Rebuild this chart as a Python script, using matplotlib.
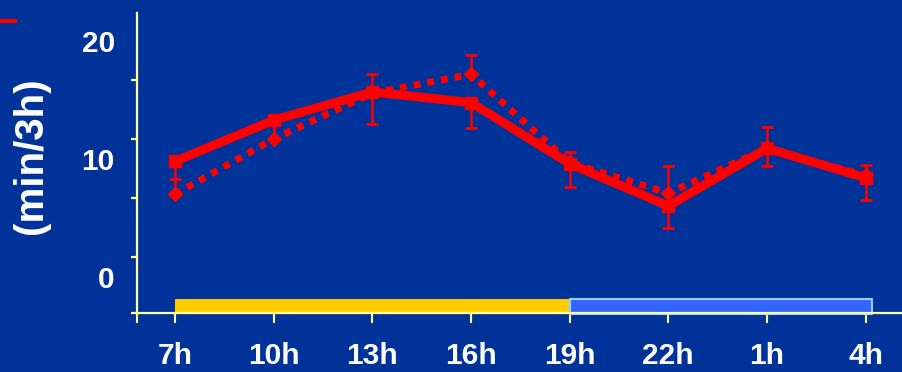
import matplotlib
matplotlib.use("Agg")
import matplotlib.pyplot as plt
from matplotlib.lines import Line2D

# time of day, 3h bins
hours = ["7h", "10h", "13h", "16h", "19h", "22h", "1h", "4h"]

# solid series (squares), lower error bars only
solid_mean = [9.8, 13.3, 15.7, 14.8, 9.6, 6.0, 10.9, 8.4]
solid_err = [1.5, 1.5, 2.7, 2.2, 2.0, 1.9, 1.5, 1.9]

# dotted series (diamonds), upper error bars only
dotted_mean = [7.0, 11.7, 15.6, 17.2, 9.7, 7.1, 10.9, 8.6]
dotted_err = [1.3, 1.3, 1.6, 1.6, 0.9, 2.3, 1.8, 0.9]

# light / dark phase strip along the x axis (in bin units)
day_span = (0, 4)
night_span = (4, 7.06)

BG = "#003399"
RED = "#ff0000"
AXIS = "#ffff99"

plt.rcParams["font.family"] = ["Liberation Sans", "DejaVu Sans"]
plt.rcParams["font.weight"] = "bold"

fig = plt.figure(figsize=(9.03, 3.72), dpi=100, facecolor=BG)
ax = fig.add_axes([0.1517, 0.1586, 0.848, 0.806], facecolor=BG)

x = list(range(len(hours)))
zeros = [0] * len(hours)

ax.errorbar(x, solid_mean, yerr=[solid_err, zeros], color=RED, lw=6.5,
            marker="s", ms=8.5, ecolor=RED, elinewidth=1.8, capsize=4,
            capthick=2, zorder=3)
ax.errorbar(x, dotted_mean, yerr=[zeros, dotted_err], color=RED, lw=5,
            ls=(0, (1, 1)), dash_capstyle="butt", marker="D", ms=7,
            ecolor=RED, elinewidth=1.8, capsize=4, capthick=2, zorder=4)

# light/dark bar sitting on the x axis
ax.fill_between(day_span, -3.1, -1.9, color="#ffcc00", lw=0, zorder=2,
                clip_on=False)
ax.fill_between(night_span, -3.2, -1.95, facecolor="#3366ff",
                edgecolor="#99ccff", lw=1.5, zorder=2, clip_on=False)

ax.set_xlim(-0.385, 7.376)
ax.set_ylim(-3.1, 22.4)

for side in ("top", "right"):
    ax.spines[side].set_visible(False)
for side in ("left", "bottom"):
    ax.spines[side].set_color(AXIS)
    ax.spines[side].set_linewidth(1.6)

ax.set_xticks(x)
ax.set_xticklabels(hours)
ax.set_xticks([-0.385], minor=True)
ax.tick_params(axis="x", which="both", direction="out", length=7,
               width=1.5, color=AXIS, pad=14, labelsize=21.5,
               labelcolor="white")

ax.set_yticks([0, 10, 20])
ax.set_yticks([-3.1, 1.7, 6.7, 11.7, 16.7], minor=True)
ax.tick_params(axis="y", which="major", length=0, pad=16, labelsize=21.5,
               labelcolor="white")
ax.tick_params(axis="y", which="minor", direction="out", length=4,
               width=1.6, color=AXIS)

fig.text(31 / 903, 1 - 156 / 372, "(min/3h)", color="white", fontsize=29,
         fontweight="bold", rotation=90, ha="center", va="center")

# clipped legend stub in the corner
fig.add_artist(Line2D([0, 15 / 903], [1 - 21 / 372] * 2, color=RED, lw=3,
                      transform=fig.transFigure))

fig.savefig("out.png", dpi=100, facecolor=BG)
